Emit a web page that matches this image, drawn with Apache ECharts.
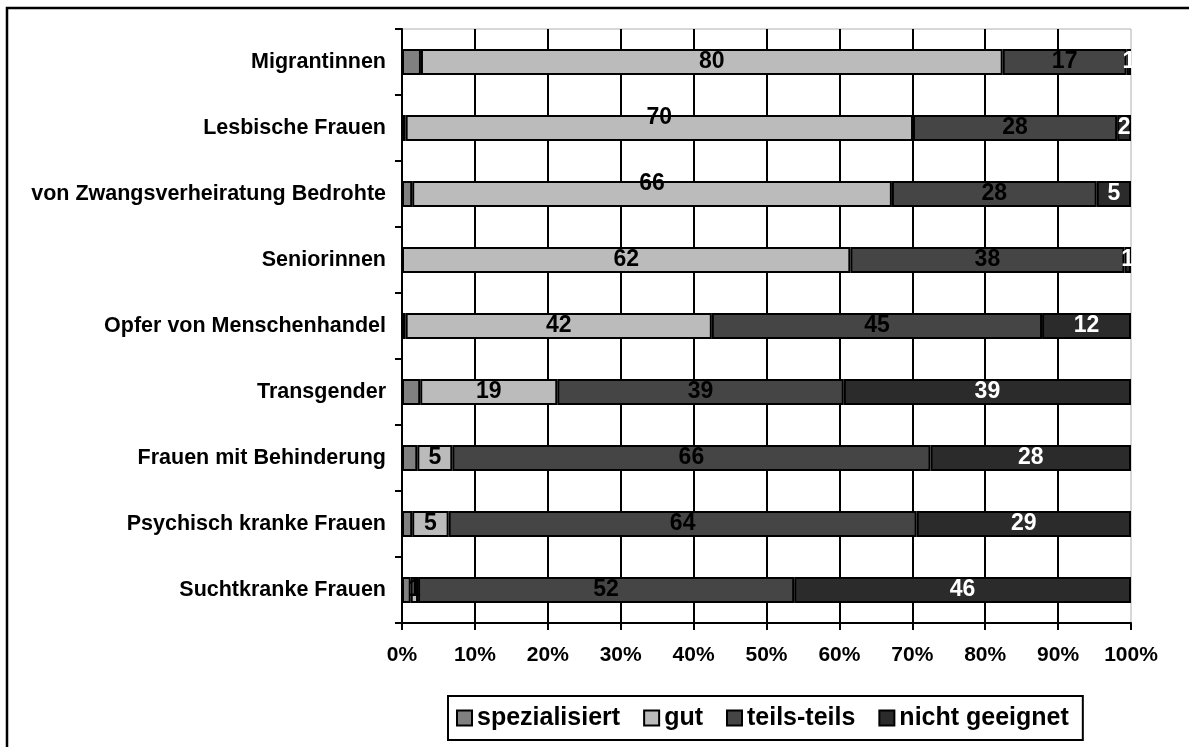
<!DOCTYPE html>
<html>
<head>
<meta charset="utf-8">
<script src="https://cdn.jsdelivr.net/npm/echarts@6/dist/echarts.min.js"></script>
<style>
  html, body { margin: 0; padding: 0; background: #fff; }
  #chart { width: 1189px; height: 747px; }
</style>
</head>
<body>
<div id="chart"></div>
<script>
// Kategorien (von oben nach unten)
const categories = ['Migrantinnen', 'Lesbische Frauen', 'von Zwangsverheiratung Bedrohte', 'Seniorinnen',
  'Opfer von Menschenhandel', 'Transgender', 'Frauen mit Behinderung', 'Psychisch kranke Frauen', 'Suchtkranke Frauen'];
// Anteile in %
const spezialisiert = [2.6, 0.5, 1.4, 0, 0.5, 2.5, 2.1, 1.4, 1.2];
const gut = [79.8, 69.6, 65.8, 61.5, 42, 18.8, 4.8, 5, 1];
const teilsTeils = [17, 28, 28.1, 37.6, 45.3, 39.3, 65.6, 64.2, 51.6];
const nichtGeeignet = [0.6, 1.9, 4.7, 0.9, 12.2, 39.4, 27.5, 29.4, 46.2];
const xTicks = [0, 10, 20, 30, 40, 50, 60, 70, 80, 90, 100];

const FONT = '"Liberation Sans", Arial, sans-serif';

function fmt(p) {
  return p.value > 0 ? Math.round(p.value) : '';
}

function mkSeries(name, data, color, labelColor, showLabel) {
  return {
    name: name,
    type: 'bar',
    stack: 'all',
    barWidth: 26,
    data: data,
    itemStyle: { color: color, borderColor: '#000', borderWidth: 2 },
    label: {
      show: showLabel,
      position: 'inside',
      formatter: fmt,
      color: labelColor,
      fontFamily: FONT,
      fontWeight: 'bold',
      fontSize: 23
    },
    emphasis: { disabled: true }
  };
}

// "70" und "66" sitzen im Original etwas höher
const gutData = gut.map((v, i) => (i === 1 || i === 2) ? { value: v, label: { offset: [0, -10] } } : v);

let myChart = echarts.init(document.getElementById('chart'));
myChart.setOption({
  animation: false,
  backgroundColor: '#fff',
  graphic: [{
    type: 'rect',
    shape: { x: 7, y: 8, width: 1300, height: 900 },
    style: { fill: 'none', stroke: '#000', lineWidth: 2.5 },
    z: 100
  }],
  grid: {
    left: 402, right: 58, top: 29, bottom: 124,
    show: true, borderColor: '#b0b0b0', borderWidth: 1
  },
  legend: {
    left: 448, top: 696,
    data: ['spezialisiert', 'gut', 'teils-teils', 'nicht geeignet'],
    icon: 'rect',
    itemWidth: 15, itemHeight: 15,
    itemGap: 23,
    borderColor: '#000', borderWidth: 2,
    padding: [7, 14, 7, 8],
    textStyle: { fontFamily: FONT, fontWeight: 'bold', fontSize: 25, color: '#000', lineHeight: 30 },
    selectedMode: false
  },
  xAxis: {
    type: 'value',
    min: xTicks[0], max: xTicks[xTicks.length - 1], interval: 10,
    axisLine: { show: true, lineStyle: { color: '#000', width: 2 } },
    axisTick: { show: true, length: 7, lineStyle: { color: '#000', width: 2 } },
    axisLabel: { formatter: '{value}%', fontFamily: FONT, fontWeight: 'bold', fontSize: 21, color: '#000', margin: 22 },
    splitLine: { show: true, showMaxLine: false, lineStyle: { color: '#000', width: 2 } }
  },
  yAxis: {
    type: 'category',
    inverse: true,
    data: categories,
    axisLine: { show: true, lineStyle: { color: '#000', width: 2 } },
    axisTick: { show: true, length: 7, lineStyle: { color: '#000', width: 2 } },
    axisLabel: { fontFamily: FONT, fontWeight: 'bold', fontSize: 21.5, color: '#000', margin: 16 },
    splitLine: { show: false }
  },
  series: [
    mkSeries('spezialisiert', spezialisiert, '#808080', '#000', false),
    mkSeries('gut', gutData, '#bbbbbb', '#000', true),
    mkSeries('teils-teils', teilsTeils, '#454545', '#000', true),
    mkSeries('nicht geeignet', nichtGeeignet, '#2b2b2b', '#fff', true)
  ]
});
</script>
</body>
</html>
